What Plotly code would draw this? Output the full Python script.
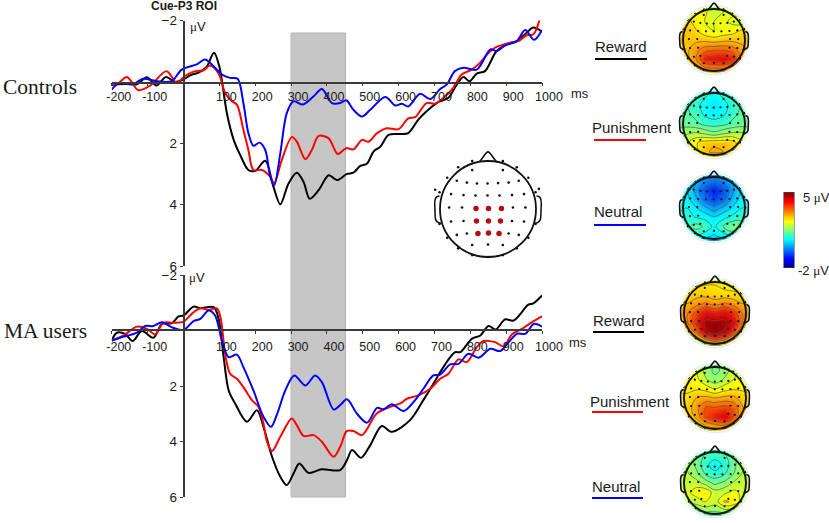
import math
import plotly.graph_objects as go

W, H = 829, 523

# ---------- ERP data: time (ms), amplitude (microvolts) ----------
c_black_t = [-200,-186,-160,-130,-102,-76,-49,-23,0,20,42,65,85,100,121,140,158,181,200,228,251,270,293,316,335,352,377,405,428,456,474,493,512,530,549,572,605,627,655,678,706,739,762,781,798,818,841,873,902,930,957,976,1000]
c_black_v = [0.1,0.08,0.07,0.08,-0.15,0.12,-0.16,0,-0.08,-0.22,-0.3,-0.5,-0.95,-0.5,1.02,1.89,2.38,2.87,2.9,2.57,3.42,3.99,3.31,2.96,3.26,3.81,3.53,3.04,3.2,3.0,2.96,2.74,2.66,2.27,2.11,1.73,1.7,1.67,1.23,0.96,0.69,0.52,0.09,-0.16,-0.02,-0.27,-0.35,-1.0,-1.22,-1.33,-1.6,-1.77,-1.63]
c_red_t = [-200,-181,-158,-126,-93,-47,-19,5,33,56,74,98,116,135,149,167,181,195,219,242,253,274,302,316,340,358,377,405,430,454,474,498,516,540,567,600,627,646,678,701,725,752,776,804,827,851,873,911,934,957,976,993]
c_red_v = [0.09,0.03,-0.16,0.27,0.12,-0.35,0.03,-0.2,-0.35,-0.38,-0.53,-0.27,0.36,0.63,0.74,1.56,2.22,2.87,2.87,3.09,3.3,2.55,1.8,1.95,2.52,2.22,1.76,1.84,2.35,2.16,2.2,1.89,1.95,1.67,1.51,1.54,1.19,1.15,0.69,0.71,0.52,0.2,-0.24,-0.4,-0.62,-0.95,-1.14,-1.28,-1.33,-1.52,-1.55,-2.02]
c_blue_t = [-200,-181,-140,-112,-74,-33,-5,37,60,84,107,130,151,167,181,195,212,228,242,253,270,288,307,333,363,386,414,437,454,474,498,521,563,591,609,627,660,688,716,734,757,781,818,856,873,897,930,953,978,1000]
c_blue_v = [0.25,0.05,0.07,-0.1,-0.02,-0.02,-0.4,-0.57,-0.73,-0.51,-0.24,-0.13,-0.1,0.69,1.67,2.08,1.98,2.22,3.09,3.37,2.33,1.02,0.63,0.74,0.47,0.23,0.69,0.69,0.6,0.91,1.13,0.91,0.49,0.77,0.71,0.8,0.39,0.56,0.23,0.09,-0.35,-0.46,-0.4,-1.06,-1.0,-1.19,-1.33,-1.69,-1.37,-1.69]

m_black_t = [-200,-186,-163,-142,-116,-84,-60,-33,-14,0,28,47,84,98,112,126,144,177,205,223,247,270,288,307,323,349,386,437,456,470,495,521,553,581,632,669,697,716,744,758,772,804,828,851,871,897,921,962,976,1000]
m_black_v = [0.36,0.08,0.12,0.38,0.02,0.26,-0.24,-0.26,-0.51,-0.54,-0.86,-0.8,-0.84,-0.42,0.96,2.16,2.63,3.29,2.87,3.47,4.55,5.27,5.57,5.15,4.79,5.13,5.0,5.03,4.67,4.31,4.59,4.13,3.44,3.65,3.23,2.51,1.92,1.5,0.96,0.78,0.78,0.3,0.18,-0.16,-0.04,-0.4,-0.36,-0.93,-0.98,-1.26]
m_red_t = [-200,-167,-130,-102,-79,-56,-28,0,23,47,70,93,104,116,130,149,167,191,209,223,233,247,270,302,316,335,363,386,419,437,456,474,498,539,577,605,623,655,688,716,739,767,790,818,837,869,893,916,944,972,1000]
m_red_v = [0.36,0.18,-0.14,-0.06,0.14,-0.28,-0.28,-0.32,-0.6,-0.8,-0.74,-0.8,-0.42,0.84,1.56,1.74,2.04,2.51,2.75,3.35,4.01,4.34,3.83,3.17,3.41,3.8,3.77,4.01,4.55,4.19,3.62,3.62,3.77,2.99,2.75,2.63,2.46,2.34,2.1,1.74,1.56,1.04,1.14,0.6,0.38,0.42,0.57,0.14,-0.06,-0.3,-0.51]
m_blue_t = [-200,-177,-130,-107,-84,-60,-33,0,28,47,70,88,107,126,149,167,195,223,244,260,284,309,340,367,386,419,437,456,484,512,540,558,581,614,646,669,697,716,744,767,795,823,856,883,907,930,953,978,1000]
m_blue_v = [0.36,0.26,0.08,-0.16,-0.16,-0.3,-0.12,-0.02,-0.34,-0.42,-0.72,-0.54,0.36,0.96,0.87,1.32,2.16,3.11,3.47,3.05,2.16,1.62,1.98,1.62,1.86,2.85,2.69,2.48,3.0,3.32,2.79,2.84,2.66,2.9,2.51,2.1,1.62,1.59,1.22,1.2,0.84,0.98,0.66,0.74,0.42,0.12,0.12,-0.24,-0.14]

x_ticks = [-200,-100,100,200,300,400,500,600,700,800,900,1000]
y_ticks = [-2,2,4,6]

# ---------- Scalp-map values (microvolts), front row first ----------
grid_x = [-1.2,-0.9,-0.6,-0.3,0,0.3,0.6,0.9,1.2]
grid_y = [1.2,0.9,0.6,0.3,0,-0.3,-0.6,-0.9,-1.2]
map_c_reward = [
 [2.4,2.4,2.4,2.2,1.9,2.1,2.3,2.4,2.4],[2.5,2.5,2.5,2.3,1.9,2.2,2.3,2.4,2.4],[2.7,2.7,2.4,2.2,2.2,2.3,2.1,2.0,2.5],
 [2.8,2.8,2.6,2.3,2.2,2.3,2.4,2.6,2.7],[2.8,2.8,2.8,2.8,2.7,2.8,2.8,2.8,2.8],[2.8,2.8,3.1,3.4,3.5,3.5,3.4,3.0,2.8],
 [2.7,2.7,3.2,4.0,4.1,4.2,3.9,3.1,2.7],[2.5,2.5,2.8,3.2,3.3,3.3,3.1,2.7,2.5],[2.1,2.2,2.3,2.3,2.3,2.3,2.3,2.2,2.1]]
map_c_punish = [
 [1.05,1.05,1.05,0.95,0.85,0.95,1.05,1.05,1.05],[1.05,1.05,1.05,0.85,0.65,0.85,1.05,1.05,1.05],[1.15,1.15,0.95,0.65,0.45,0.65,0.95,1.15,1.15],
 [1.25,1.25,1.05,0.75,0.6,0.75,1.05,1.25,1.25],[1.35,1.35,1.25,1.05,1.0,1.05,1.25,1.35,1.35],[1.7,1.8,1.9,1.8,1.6,1.8,1.9,1.9,1.8],
 [1.9,2.1,2.5,2.7,2.8,2.8,2.7,2.3,2.0],[1.9,2.0,2.4,2.8,3.0,2.9,2.6,2.2,1.9],[1.6,1.6,1.8,1.9,2.0,1.9,1.8,1.6,1.6]]
map_c_neutral = [
 [0.3,0.3,0.3,0.2,0.1,0.2,0.3,0.3,0.3],[0.5,0.4,0.2,-0.1,-0.3,-0.1,0.2,0.4,0.5],[0.6,0.5,0.0,-0.6,-0.9,-0.6,0.0,0.5,0.6],
 [0.7,0.6,0.2,-0.4,-0.7,-0.4,0.2,0.6,0.7],[0.8,0.8,0.5,0.2,-0.1,0.2,0.5,0.8,0.8],[0.8,0.9,0.8,0.7,0.5,0.7,0.9,1.0,0.9],
 [0.8,1.0,1.3,1.1,0.7,1.2,1.5,1.4,0.9],[0.6,0.7,0.8,0.6,0.4,0.6,0.9,0.8,0.6],[0.0,0.0,0.0,-0.1,-0.2,-0.1,0.0,0.0,0.0]]
map_m_reward = [
 [2.3,2.3,2.3,2.4,2.5,2.4,2.3,2.3,2.3],[2.55,2.55,2.55,2.55,2.55,2.45,2.35,2.3,2.3],[2.65,2.65,2.75,2.75,2.65,2.65,2.65,2.55,2.55],
 [2.9,2.9,3.1,3.3,3.1,3.3,3.1,2.9,2.9],[3.1,3.2,3.7,4.2,4.0,4.2,3.8,3.2,3.1],[3.0,3.2,4.0,4.8,4.8,4.8,4.2,3.2,3.0],
 [2.6,2.7,3.5,4.6,4.9,4.6,3.7,2.7,2.6],[1.8,1.9,2.3,3.0,3.4,3.1,2.4,1.9,1.8],[0.8,0.8,1.0,1.1,1.1,1.1,1.0,0.8,0.8]]
map_m_punish = [
 [2.1,2.1,2.0,1.8,1.6,1.7,2.0,2.1,2.1],[2.4,2.4,2.2,1.7,1.4,1.6,2.1,2.3,2.4],[2.5,2.5,2.3,1.9,1.6,1.9,2.2,2.4,2.5],
 [2.5,2.5,2.5,2.4,2.2,2.4,2.5,2.5,2.5],[2.6,2.6,2.9,3.0,2.9,3.0,3.0,2.7,2.6],[2.6,2.7,3.1,3.6,3.6,3.7,3.5,2.9,2.6],
 [2.5,2.6,3.0,3.7,4.0,4.3,3.6,2.8,2.5],[2.2,2.3,2.5,2.9,3.1,3.2,2.8,2.4,2.2],[1.6,1.6,1.8,2.1,2.2,2.2,2.0,1.6,1.6]]
map_m_neutral = [
 [1.4,1.5,1.5,1.4,1.3,1.4,1.5,1.5,1.4],[1.8,1.7,1.4,1.1,1.0,1.1,1.4,1.7,1.8],[1.9,1.8,1.4,0.9,0.6,0.9,1.4,1.8,1.9],
 [2.0,1.9,1.6,1.1,0.9,1.1,1.5,1.9,2.0],[2.0,2.0,2.0,1.7,1.4,1.6,1.9,2.0,2.0],[2.0,2.1,2.4,2.5,2.0,2.1,2.3,2.1,2.0],
 [1.8,1.9,2.0,2.2,2.0,2.6,2.5,2.0,1.8],[1.3,1.4,1.5,1.6,1.6,1.7,1.6,1.4,1.3],[0.5,0.5,0.6,0.6,0.5,0.6,0.6,0.5,0.5]]
scale_levels = [[-2],[-1],[0],[1],[2],[3],[4],[5]]

# electrode positions on a unit head
elec_x = [-.33,.31,-.33,.31,-.62,.60,-.65,-.44,-.23,-.01,.21,.43,.64,-.77,-.51,-.26,-.01,.24,.50,.75,-.81,-.54,.52,.78,-.77,-.51,.50,.75,-.65,-.44,.43,.64,-.33,0,.31,-.62,.60,-.33,.31,0,-1.10,-1.01,1.06,.99,-.85,.84,-1.01,.99,-.85,.84]
elec_y = [.81,.81,1.0,1.0,.87,.87,.59,.55,.53,.53,.54,.55,.59,.31,.29,.28,.28,.28,.29,.31,.03,.03,.03,.03,-.26,-.25,-.25,-.26,-.54,-.51,-.51,-.54,-.75,-.74,-.75,-.82,-.82,-.96,-.96,-1.0,.40,.35,.42,.35,.65,.65,-.31,-.31,-.60,-.60]
roi_x = [-.25,.01,.28,-.24,.01,.26,-.21,.01,.23]
roi_y = [.01,.01,.01,-.25,-.25,-.25,-.51,-.50,-.51]

# ---------- Pixel layout helpers ----------
def fx(p): return p / W
def fy(p): return 1 - p / H

X0, X1 = 111.8, 542.0
panels = [
    dict(top=20.5, bot=266.0, zero=82.5),
    dict(top=275.0, bot=497.0, zero=330.0),
]
AX_LINE = "#3a3a3a"
TXT = "#1a1a1a"
sans = "Liberation Sans, Arial, sans-serif"
serif = "Liberation Serif, Times New Roman, serif"
MU = '<span style="font-family:Liberation Serif">μ</span>V'
JET = [[0,"#00007f"],[.125,"#0000ff"],[.375,"#00ffff"],[.625,"#ffff00"],[.875,"#ff0000"],[1,"#7f0000"]]

fig = go.Figure()
layout = dict(
    width=W, height=H, autosize=False,
    margin=dict(l=0, r=0, t=0, b=0, pad=0, autoexpand=False),
    paper_bgcolor="white", plot_bgcolor="rgba(0,0,0,0)", showlegend=False,
    font=dict(family=sans, color=TXT, size=13),
    shapes=[], annotations=[],
    coloraxis=dict(cmin=-2, cmax=5, colorscale=JET, showscale=False),
)

for i, p in enumerate(panels):
    n = "" if i == 0 else "2"
    layout[f"xaxis{n}"] = dict(
        domain=[fx(X0), fx(X1)], range=[-200, 1000], anchor="free", position=fy(p["zero"]),
        tickvals=x_ticks, ticktext=[str(v) for v in x_ticks], ticks="outside", ticklen=3, tickwidth=1.2,
        tickcolor=AX_LINE, showline=True, linecolor=AX_LINE, linewidth=1.6, showgrid=False, zeroline=False,
        tickfont=dict(family=sans, size=12.5, color=TXT), ticklabelshift=7,
        ticklabelstandoff=0 if i == 0 else 2, tickangle=0,
    )
    layout[f"yaxis{n}"] = dict(
        domain=[fy(p["bot"]), fy(p["top"])], range=[6, -2], anchor="free", position=fx(183.5),
        tickvals=y_ticks, ticks="outside", ticklen=3, tickwidth=1.2, tickcolor=AX_LINE,
        showline=True, linecolor=AX_LINE, linewidth=1.6, showgrid=False, zeroline=False,
        tickfont=dict(family=sans, size=13.5, color=TXT),
    )

series = [
    ("x", "y", c_black_t, c_black_v, "#000000"), ("x", "y", c_red_t, c_red_v, "#ff0000"), ("x", "y", c_blue_t, c_blue_v, "#0000ff"),
    ("x2", "y2", m_black_t, m_black_v, "#000000"), ("x2", "y2", m_red_t, m_red_v, "#ff0000"), ("x2", "y2", m_blue_t, m_blue_v, "#0000ff"),
]
for xa, ya, t, v, col in series:
    fig.add_trace(go.Scatter(x=t, y=v, xaxis=xa, yaxis=ya, mode="lines",
                             line=dict(color=col, width=2.0, shape="spline", smoothing=0.9), hoverinfo="skip"))

# gray window spanning both panels
layout["shapes"].append(dict(type="rect", xref="x", yref="paper", x0=300, x1=452, y0=fy(497), y1=fy(33),
                             fillcolor="#c6c6c6", line=dict(color="#b4b4b4", width=1), layer="below"))

# ---------- head drawing ----------
def ring_path(r, R):
    pts = [(r * math.cos(2 * math.pi * k / 96), r * math.sin(2 * math.pi * k / 96)) for k in range(96)]
    hole = "M " + " L ".join(f"{a:.4f},{b:.4f}" for a, b in pts) + " Z"
    outer = f"M {-R},{-R} L {-R},{R} L {R},{R} L {R},{-R} Z"
    return outer + " " + hole

NOSE = "M -0.18,0.985 C -0.1,1.06 -0.05,1.19 0,1.19 C 0.05,1.19 0.1,1.06 0.18,0.985"
EAR_L = "M -1.01,0.27 C -1.1,0.27 -1.11,0.2 -1.11,0.1 L -1.1,-0.16 C -1.1,-0.27 -1.04,-0.29 -0.98,-0.3"
EAR_R = "M 1.01,0.27 C 1.1,0.27 1.11,0.2 1.11,0.1 L 1.1,-0.16 C 1.1,-0.27 1.04,-0.29 0.98,-0.3"

def head_axes(idx, cx, cy, r, span=1.25):
    half = r * span
    layout[f"xaxis{idx}"] = dict(domain=[fx(cx - half), fx(cx + half)], range=[-span, span], visible=False, anchor=f"y{idx}", fixedrange=True)
    layout[f"yaxis{idx}"] = dict(domain=[fy(cy + half), fy(cy - half)], range=[-span, span], visible=False, anchor=f"x{idx}", fixedrange=True)

def head_outline(idx, lw, halo=False):
    common = dict(xref=f"x{idx}", yref=f"y{idx}", layer="above")
    if halo:
        layout["shapes"].append(dict(type="path", path=ring_path(1.07, 1.25), fillcolor="white", line=dict(width=0), **common))
        layout["shapes"].append(dict(type="circle", x0=-1.12, x1=1.12, y0=-1.12, y1=1.12, line=dict(color="#dff1f6", width=1.5), **common))
    layout["shapes"].append(dict(type="circle", x0=-1, x1=1, y0=-1, y1=1, line=dict(color="#111", width=lw), **common))
    for path in (NOSE, EAR_L, EAR_R):
        layout["shapes"].append(dict(type="path", path=path, line=dict(color="#111", width=lw * 0.85), **common))

maps = [
    (map_c_reward, 714, 40), (map_c_punish, 714, 124), (map_c_neutral, 714, 208),
    (map_m_reward, 715, 313), (map_m_punish, 715, 398), (map_m_neutral, 715, 483),
]
for k, (z, cx, cy) in enumerate(maps):
    idx = k + 3
    head_axes(idx, cx, cy, 31)
    fig.add_trace(go.Contour(x=grid_x, y=grid_y, z=z, xaxis=f"x{idx}", yaxis=f"y{idx}", coloraxis="coloraxis",
                             contours=dict(coloring="heatmap", start=-2, end=5, size=0.35, showlabels=False),
                             line=dict(color="#505a50", width=0.7, smoothing=1), hoverinfo="skip"))
    fig.add_trace(go.Scatter(x=elec_x, y=elec_y, xaxis=f"x{idx}", yaxis=f"y{idx}", mode="markers",
                             marker=dict(color="#111", size=2.2), hoverinfo="skip"))
    head_outline(idx, 1.9, halo=True)

# inset electrode map
head_axes(9, 488, 209, 48)
fig.add_trace(go.Scatter(x=elec_x, y=elec_y, xaxis="x9", yaxis="y9", mode="markers",
                         marker=dict(color="#111", size=2.6), hoverinfo="skip"))
fig.add_trace(go.Scatter(x=roi_x, y=roi_y, xaxis="x9", yaxis="y9", mode="markers",
                         marker=dict(color="#b40f0f", size=5.5), hoverinfo="skip"))
head_outline(9, 1.8)

# colour scale bar, drawn as its own heatmap on its own axes
layout["xaxis10"] = dict(domain=[fx(783.5), fx(794.5)], range=[-0.5, 0.5], visible=False, anchor="y10", fixedrange=True)
layout["yaxis10"] = dict(domain=[fy(268), fy(192)], range=[-2, 5], visible=False, anchor="x10", fixedrange=True)
fig.add_trace(go.Heatmap(x=[-0.5, 0.5], y=[v[0] for v in scale_levels], z=[[v[0], v[0]] for v in scale_levels], xaxis="x10", yaxis="y10",
                         coloraxis="coloraxis", zsmooth="best", hoverinfo="skip"))
layout["shapes"].append(dict(type="rect", xref="x10", yref="y10", x0=-0.5, x1=0.5, y0=-2, y1=5, line=dict(color="#555", width=1), layer="above"))

# ---------- text and legend rules ----------
def text(s, x, y, size, family=sans, anchor="left"):
    layout["annotations"].append(dict(text=s, x=fx(x), y=fy(y), xref="paper", yref="paper", showarrow=False,
                                      xanchor=anchor, yanchor="middle", font=dict(family=family, size=size, color=TXT),
                                      borderpad=0))

def rule(x0, x1, y, col):
    layout["shapes"].append(dict(type="line", xref="paper", yref="paper", x0=fx(x0), x1=fx(x1), y0=fy(y), y1=fy(y),
                                 line=dict(color=col, width=1.8)))

text("<b>Cue-P3 ROI</b>", 150, 6, 12)
text(MU, 189, 27, 13)
text(MU, 188, 277, 13)
text("ms", 570, 94, 13)
text("ms", 568, 342, 13)
text("Controls", 2, 87, 21.5, family=serif)
text("MA users", 3, 331, 21.5, family=serif)

legend = [
    ("Reward", 594, 47, 595, 647, 59, "#000000"), ("Punishment", 591, 127, 594, 646, 140, "#ff0000"),
    ("Neutral", 593, 212, 594, 646, 225, "#0000ff"), ("Reward", 592, 320, 593, 644, 332, "#000000"),
    ("Punishment", 589, 401, 592, 643, 412, "#ff0000"), ("Neutral", 591, 486, 592, 643, 498, "#0000ff"),
]
for label, lx, ly, r0, r1, ry, col in legend:
    text(label, lx, ly, 15)
    rule(r0, r1, ry, col)

text("5 " + MU, 802, 197, 13)
text("-2 " + MU, 797, 270, 13)

fig.update_layout(**layout)
fig.write_html("out.html", config={"displayModeBar": False}, post_script="document.body.style.margin='0';")
